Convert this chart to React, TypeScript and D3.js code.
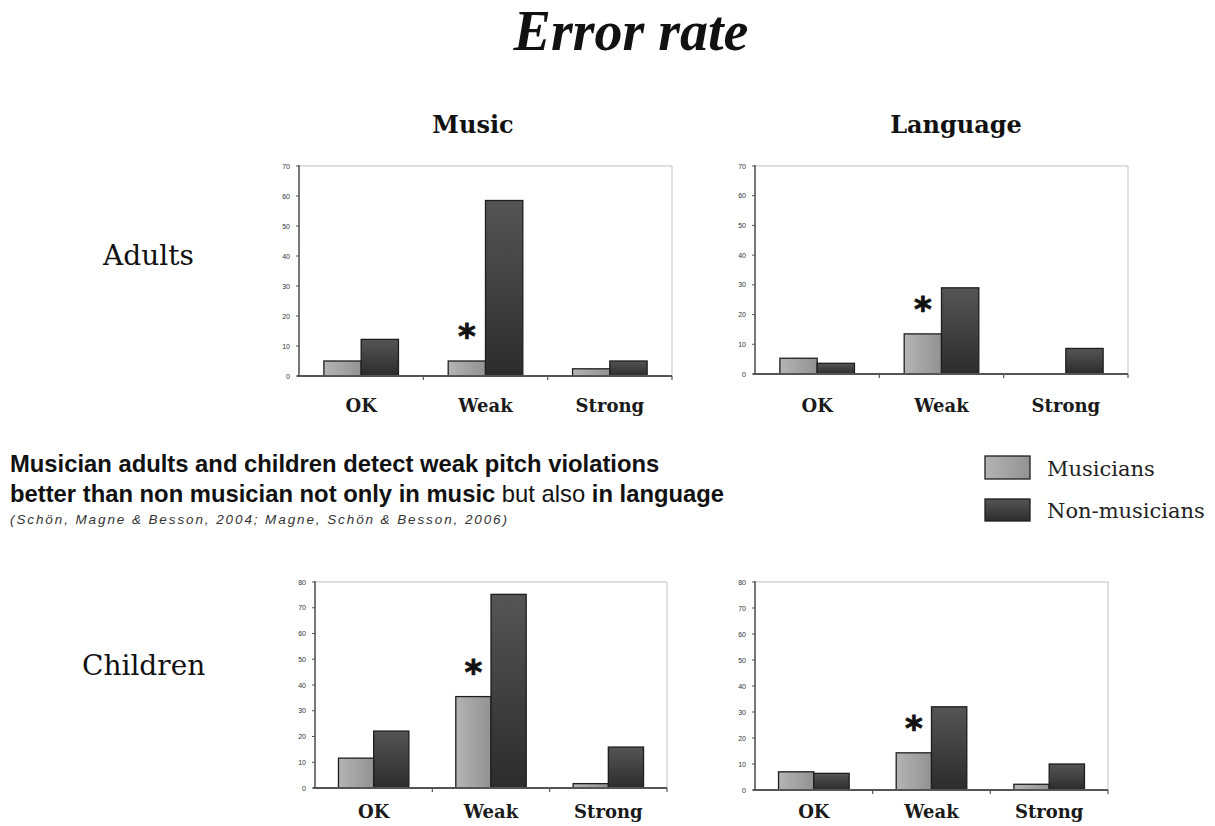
import React from "react";
import * as d3 from "d3";

const categories = ["OK", "Weak", "Strong"];
const seriesNames = ["Musicians", "Non-musicians"];

const adultsMusicMusicians = [5, 5, 2.4];
const adultsMusicNonMusicians = [12.2, 58.5, 5];
const adultsLanguageMusicians = [5.3, 13.5, 0];
const adultsLanguageNonMusicians = [3.6, 29, 8.6];
const childrenMusicMusicians = [11.6, 35.5, 1.7];
const childrenMusicNonMusicians = [22.1, 75.2, 15.9];
const childrenLanguageMusicians = [7, 14.3, 2.2];
const childrenLanguageNonMusicians = [6.4, 32, 10];

const adultTicks = [0, 10, 20, 30, 40, 50, 60, 70];
const childTicks = [0, 10, 20, 30, 40, 50, 60, 70, 80];

const significantCategory = "Weak";

const SERIF = "'DejaVu Serif', serif";
const SANS = "'Liberation Sans', Arial, sans-serif";

type Panel = {
  mus: number[];
  non: number[];
  ticks: number[];
  left: number;
  right: number;
  top: number;
  bottom: number;
  labelY: number;
};

const panels: Panel[] = [
  { mus: adultsMusicMusicians, non: adultsMusicNonMusicians, ticks: adultTicks, left: 299, right: 672, top: 166, bottom: 376, labelY: 412 },
  { mus: adultsLanguageMusicians, non: adultsLanguageNonMusicians, ticks: adultTicks, left: 755, right: 1128, top: 166, bottom: 374, labelY: 412 },
  { mus: childrenMusicMusicians, non: childrenMusicNonMusicians, ticks: childTicks, left: 315, right: 667, top: 582, bottom: 788, labelY: 818 },
  { mus: childrenLanguageMusicians, non: childrenLanguageNonMusicians, ticks: childTicks, left: 755, right: 1108, top: 582, bottom: 790, labelY: 818 },
];

function Chart({ p }: { p: Panel }) {
  const x = d3.scaleBand<string>().domain(categories).range([p.left, p.right]).padding(0);
  const bw = x.bandwidth();
  const groupW = bw * 0.6;
  const sub = d3
    .scaleBand<string>()
    .domain(seriesNames)
    .range([(bw - groupW) / 2, (bw + groupW) / 2])
    .padding(0);
  const maxV = p.ticks[p.ticks.length - 1];
  const y = d3.scaleLinear().domain([0, maxV]).range([p.bottom, p.top]);
  const boundaries = categories.map((c) => (x(c) as number) + bw);
  return (
    <g>
      <line x1={p.left} x2={p.right} y1={p.top} y2={p.top} stroke="#d4d4d4" strokeWidth={1.5} />
      <line x1={p.right} x2={p.right} y1={p.top} y2={p.bottom} stroke="#d4d4d4" strokeWidth={1.5} />
      {categories.map((c, i) => {
        const vals = [p.mus[i], p.non[i]];
        return (
          <g key={c}>
            {seriesNames.map((s, j) => {
              const v = vals[j];
              if (v <= 0) return null;
              const bx = (x(c) as number) + (sub(s) as number);
              return (
                <rect
                  key={s}
                  x={bx}
                  y={y(v)}
                  width={sub.bandwidth()}
                  height={y(0) - y(v)}
                  fill={j === 0 ? `url(#gMus)` : `url(#gNon)`}
                  stroke="#1e1e1e"
                  strokeWidth={1.3}
                />
              );
            })}
            {c === significantCategory && (
              <text
                x={(x(c) as number) + (sub(seriesNames[0]) as number) + sub.bandwidth() / 2}
                y={y(p.mus[i]) - 13}
                textAnchor="middle"
                fontFamily="'DejaVu Sans', sans-serif"
                fontWeight="bold"
                fontSize={34}
                stroke="#111"
                strokeWidth={0.8}
                fill="#111"
              >
                *
              </text>
            )}
          </g>
        );
      })}
      <line x1={p.left} x2={p.left} y1={p.top - 1} y2={p.bottom} stroke="#555" strokeWidth={1.6} />
      <line x1={p.left - 2} x2={p.right} y1={p.bottom} y2={p.bottom} stroke="#555" strokeWidth={1.8} />
      {p.ticks.map((t) => (
        <g key={t}>
          <line x1={p.left - 3} x2={p.left} y1={y(t)} y2={y(t)} stroke="#555" strokeWidth={1} />
          <text x={p.left - 9} y={y(t) + 2.5} textAnchor="end" fontFamily={SANS} fontSize={7} fill="#333">
            {t}
          </text>
        </g>
      ))}
      {boundaries.map((b, i) => (
        <line key={i} x1={b} x2={b} y1={p.bottom} y2={p.bottom + 4} stroke="#555" strokeWidth={1.2} />
      ))}
      {categories.map((c) => (
        <text
          key={c}
          x={(x(c) as number) + bw / 2}
          y={p.labelY}
          textAnchor="middle"
          fontFamily={SERIF}
          fontWeight="bold"
          fontSize={18}
          fill="#1a1a1a"
        >
          {c}
        </text>
      ))}
    </g>
  );
}

export default function App() {
  return (
    <svg
      width={1215}
      height={826}
      viewBox="0 0 1215 826"
      style={{ position: "absolute", left: 0, top: 0, background: "#fff" }}
    >
      <defs>
        <linearGradient id="gMus" x1="0" y1="0" x2="1" y2="0">
          <stop offset="0" stopColor="#b4b4b4" />
          <stop offset="1" stopColor="#929292" />
        </linearGradient>
        <linearGradient id="gNon" x1="0" y1="0" x2="0" y2="1">
          <stop offset="0" stopColor="#555555" />
          <stop offset="1" stopColor="#2c2c2c" />
        </linearGradient>
      </defs>
      <rect x={0} y={0} width={1215} height={826} fill="#fff" />

      <text x={631} y={50} textAnchor="middle" fontFamily="'Liberation Serif', serif" fontWeight="bold" fontStyle="italic" fontSize={56} fill="#111">
        Error rate
      </text>

      <text x={473} y={133} textAnchor="middle" fontFamily={SERIF} fontWeight="bold" fontSize={24} fill="#111">
        Music
      </text>
      <text x={956} y={133} textAnchor="middle" fontFamily={SERIF} fontWeight="bold" fontSize={24} fill="#111">
        Language
      </text>

      <text x={103} y={265} fontFamily={SERIF} fontSize={28} fill="#111">
        Adults
      </text>
      <text x={82} y={675} fontFamily={SERIF} fontSize={28} fill="#111">
        Children
      </text>

      {panels.map((p, i) => (
        <Chart key={i} p={p} />
      ))}

      <text x={10} y={472} fontFamily={SANS} fontWeight="bold" fontSize={23.8} fill="#111">
        Musician adults and children detect weak pitch violations
      </text>
      <text x={10} y={502} fontFamily={SANS} fontSize={23.8} fill="#111">
        <tspan fontWeight="bold">better than non musician not only in music</tspan>
        <tspan> but also </tspan>
        <tspan fontWeight="bold">in language</tspan>
      </text>
      <text x={10} y={524} fontFamily={SANS} fontStyle="italic" fontSize={13.5} fill="#333" textLength={497} lengthAdjust="spacing">
        (Schön, Magne &amp; Besson, 2004; Magne, Schön &amp; Besson, 2006)
      </text>

      <rect x={985} y={456} width={45} height={23} fill="url(#gMus)" stroke="#1e1e1e" strokeWidth={1.3} />
      <rect x={985} y={499} width={45} height={22} fill="url(#gNon)" stroke="#1e1e1e" strokeWidth={1.3} />
      <text x={1047} y={476} fontFamily={SERIF} fontSize={21} fill="#222">
        {seriesNames[0]}
      </text>
      <text x={1047} y={518} fontFamily={SERIF} fontSize={21} fill="#222">
        {seriesNames[1]}
      </text>
    </svg>
  );
}
